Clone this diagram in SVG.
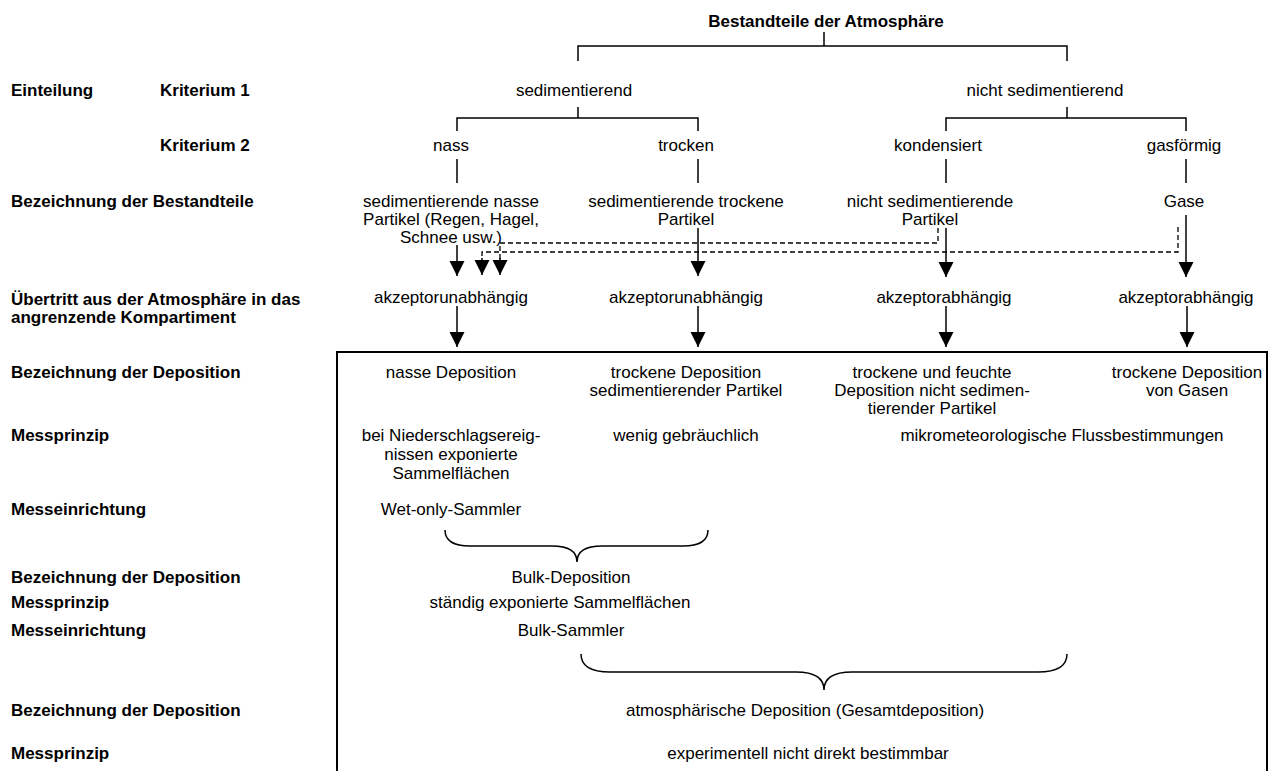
<svg xmlns="http://www.w3.org/2000/svg" width="1269" height="771" viewBox="0 0 1269 771">
<defs>
<style>
text{font-family:"Liberation Sans",Arial,sans-serif;font-size:17px;fill:#000}
.b{font-weight:bold}
.m{text-anchor:middle}
.ln{stroke:#000;stroke-width:1.5;fill:none}
.ar{stroke:#000;stroke-width:1.5;fill:none;marker-end:url(#ah)}
.ds{stroke:#000;stroke-width:1.3;fill:none;stroke-dasharray:5 3}
.box{stroke:#000;stroke-width:2;fill:none}
</style>
<marker id="ah" markerUnits="userSpaceOnUse" markerWidth="16" markerHeight="16" refX="15" refY="7.5" orient="auto"><path d="M0,0 L15,7.5 L0,15 z" fill="#000"/></marker>
</defs>
<rect width="1269" height="771" fill="#fff"/>

<g id="labels">
<text class="b" x="11" y="96">Einteilung</text>
<text class="b" x="160" y="96">Kriterium 1</text>
<text class="b" x="160" y="151">Kriterium 2</text>
<text class="b" x="11" y="207">Bezeichnung der Bestandteile</text>
<text class="b" x="11" y="305">Übertritt aus der Atmosphäre in das</text>
<text class="b" x="11" y="323">angrenzende Kompartiment</text>
<text class="b" x="11" y="378">Bezeichnung der Deposition</text>
<text class="b" x="11" y="441">Messprinzip</text>
<text class="b" x="11" y="515">Messeinrichtung</text>
<text class="b" x="11" y="583">Bezeichnung der Deposition</text>
<text class="b" x="11" y="608">Messprinzip</text>
<text class="b" x="11" y="636">Messeinrichtung</text>
<text class="b" x="11" y="716">Bezeichnung der Deposition</text>
<text class="b" x="11" y="759">Messprinzip</text>
</g>

<g id="title"><text class="b m" x="826" y="27">Bestandteile der Atmosphäre</text></g>
<g id="sedimentierend"><text class="m" x="574" y="96">sedimentierend</text></g>
<g id="nicht-sedimentierend"><text class="m" x="1045" y="96">nicht sedimentierend</text></g>
<g id="nass"><text class="m" x="451" y="151">nass</text></g>
<g id="trocken"><text class="m" x="686" y="151">trocken</text></g>
<g id="kondensiert"><text class="m" x="938" y="151">kondensiert</text></g>
<g id="gasfoermig"><text class="m" x="1184" y="151">gasförmig</text></g>

<g id="sed-nasse-partikel"><text class="m" x="451" y="207">sedimentierende nasse</text><text class="m" x="451" y="225">Partikel (Regen, Hagel,</text><text class="m" x="451" y="243">Schnee usw.)</text></g>
<g id="sed-trockene-partikel"><text class="m" x="686" y="207">sedimentierende trockene</text><text class="m" x="686" y="225">Partikel</text></g>
<g id="nicht-sed-partikel"><text class="m" x="930" y="207">nicht sedimentierende</text><text class="m" x="930" y="225">Partikel</text></g>
<g id="gase"><text class="m" x="1184" y="207">Gase</text></g>

<g id="akz1"><text class="m" x="451" y="303">akzeptorunabhängig</text></g>
<g id="akz2"><text class="m" x="686" y="303">akzeptorunabhängig</text></g>
<g id="akz3"><text class="m" x="944" y="303">akzeptorabhängig</text></g>
<g id="akz4"><text class="m" x="1186" y="303">akzeptorabhängig</text></g>

<g id="deposition-box"><rect class="box" x="337" y="352" width="930" height="440"/></g>

<g id="nasse-deposition"><text class="m" x="451" y="378">nasse Deposition</text></g>
<g id="trockene-deposition-sed"><text class="m" x="686" y="378">trockene Deposition</text><text class="m" x="686" y="396">sedimentierender Partikel</text></g>
<g id="dep-nicht-sed"><text class="m" x="932" y="378">trockene und feuchte</text><text class="m" x="932" y="396">Deposition nicht sedimen-</text><text class="m" x="932" y="414">tierender Partikel</text></g>
<g id="dep-gase"><text class="m" x="1187" y="378">trockene Deposition</text><text class="m" x="1187" y="396">von Gasen</text></g>

<g id="mess-nass"><text class="m" x="451" y="441">bei Niederschlagsereig-</text><text class="m" x="451" y="460">nissen exponierte</text><text class="m" x="451" y="479">Sammelflächen</text></g>
<g id="mess-trocken"><text class="m" x="686" y="441">wenig gebräuchlich</text></g>
<g id="mess-mikro"><text class="m" x="1062" y="441">mikrometeorologische Flussbestimmungen</text></g>
<g id="wet-only"><text class="m" x="451" y="515">Wet-only-Sammler</text></g>

<g id="bulk-deposition"><text class="m" x="571" y="583">Bulk-Deposition</text></g>
<g id="bulk-mess"><text class="m" x="560" y="608">ständig exponierte Sammelflächen</text></g>
<g id="bulk-sammler"><text class="m" x="571" y="636">Bulk-Sammler</text></g>

<g id="gesamtdeposition"><text class="m" x="805" y="716">atmosphärische Deposition (Gesamtdeposition)</text></g>
<g id="gesamt-mess"><text class="m" x="808" y="759">experimentell nicht direkt bestimmbar</text></g>

<g id="connectors">
<path class="ln" d="M824,32 V46 M578,61 V46 H1067 V61"/>
<path class="ln" d="M578,107 V118 M457,131 V118 H698 V131"/>
<path class="ln" d="M1067,107 V118 M946,131 V118 H1186 V131"/>
<path class="ln" d="M457,159 V183 M698,159 V183 M946,159 V183 M1186,159 V183"/>
<path class="ar" d="M457,245 V276"/>
<path class="ar" d="M698,228 V276"/>
<path class="ar" d="M946,228 V277"/>
<path class="ar" d="M1186,215 V277"/>
<path class="ds" d="M938,228 V243 H500 V259"/>
<path class="ds" d="M1178,227 V252 H482 V259"/>
<path class="ar" d="M500,258 V275"/>
<path class="ar" d="M482,258 V275"/>
<path class="ar" d="M457,306 V347"/>
<path class="ar" d="M698,306 V347"/>
<path class="ar" d="M946,306 V347"/>
<path class="ar" d="M1187,306 V347"/>
<path class="ln" d="M445,530 Q445,546 470,546 L552,546 Q577,546 577,562 Q577,546 602,546 L683,546 Q708,546 708,530"/>
<path class="ln" d="M581,654 Q581,672 610,672 L796,672 Q824,672 824,690 Q824,672 852,672 L1038,672 Q1067,672 1067,654"/>
</g>
</svg>
